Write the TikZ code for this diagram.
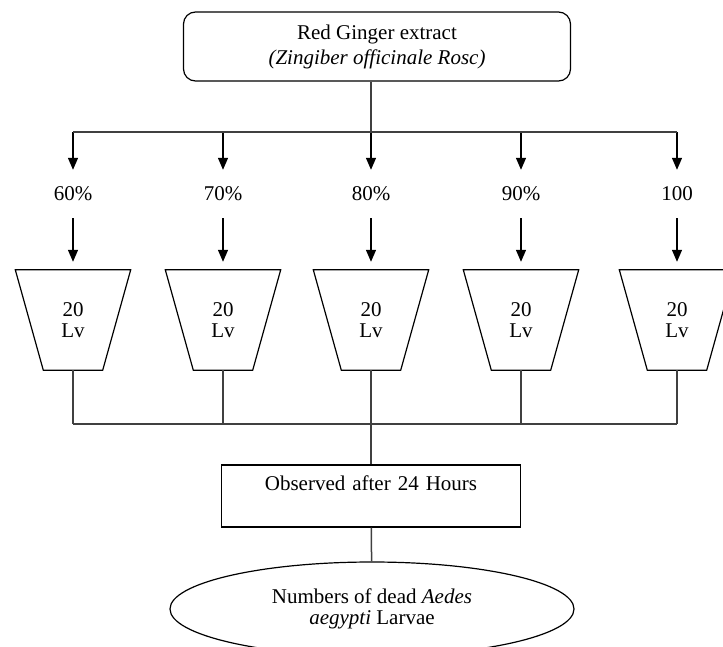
\documentclass[tikz,border=0pt]{standalone}
\usepackage{fontspec}
\setmainfont{Liberation Serif}
\usetikzlibrary{arrows.meta,shapes.geometric}

\tikzset{
  txt/.style={font=\fontsize{21}{21}\selectfont, align=center},
  arr/.style={-{Triangle[length=12pt,width=10pt]}, line width=1.3pt},
  link/.style={line width=1.5pt, black!75},
  cup/.style={txt, minimum width=115pt, minimum height=100pt, inner sep=0pt},
  pct/.style={txt, inner sep=0pt, minimum height=48pt}
}

\begin{document}
\begin{tikzpicture}[x=1pt,y=-1pt]
\useasboundingbox (0,0) rectangle (723,646);
\clip (0,0) rectangle (723,646);

% extract
\node[txt, draw, line width=1.2pt, rounded corners=12pt, minimum width=387pt,
  minimum height=69pt, inner sep=0pt] (src) at (377,46.5)
  {Red Ginger extract\\[4pt]\textit{(Zingiber officinale Rosc)}};

% concentrations
\foreach \i/\x/\p in {1/73/60\%, 2/223/70\%, 3/371/80\%, 4/521/90\%, 5/677/100} {
  \coordinate (b\i) at (\x,132);
  \coordinate (c\i) at (\x,424);
  \node[pct] (p\i) at (\x,194) {\p};
  \node[cup] (t\i) at (\x,320) {20\\Lv};
  \draw[line width=1.2pt] (t\i.north west) -- (t\i.north east)
    -- ([xshift=-28pt]t\i.south east) -- ([xshift=28pt]t\i.south west) -- cycle;
  \draw[arr] (b\i) -- (p\i.north);
  \draw[arr, shorten >=8pt] (p\i.south) -- (t\i.north);
  \draw[link] (t\i.south) -- (c\i);
}
\draw[link] (src.south -| b3) -- (b3);
\draw[link] (b1) -- (b5);
\draw[link] (c1) -- (c5);

% result
\node[txt, draw, line width=1.2pt, inner sep=0pt, text width=299pt,
  text height=25pt, text depth=37pt] (obs) at (371,496) {Observed after 24 Hours};
\node[txt, draw, line width=1.2pt, ellipse, minimum width=404pt,
  minimum height=94pt, inner sep=0pt] (res) at (372,609)
  {Numbers of dead \textit{Aedes}\\\textit{aegypti} Larvae};
\draw[link] (c3) -- (obs);
\draw[link] (obs) -- (res);
\end{tikzpicture}
\end{document}
